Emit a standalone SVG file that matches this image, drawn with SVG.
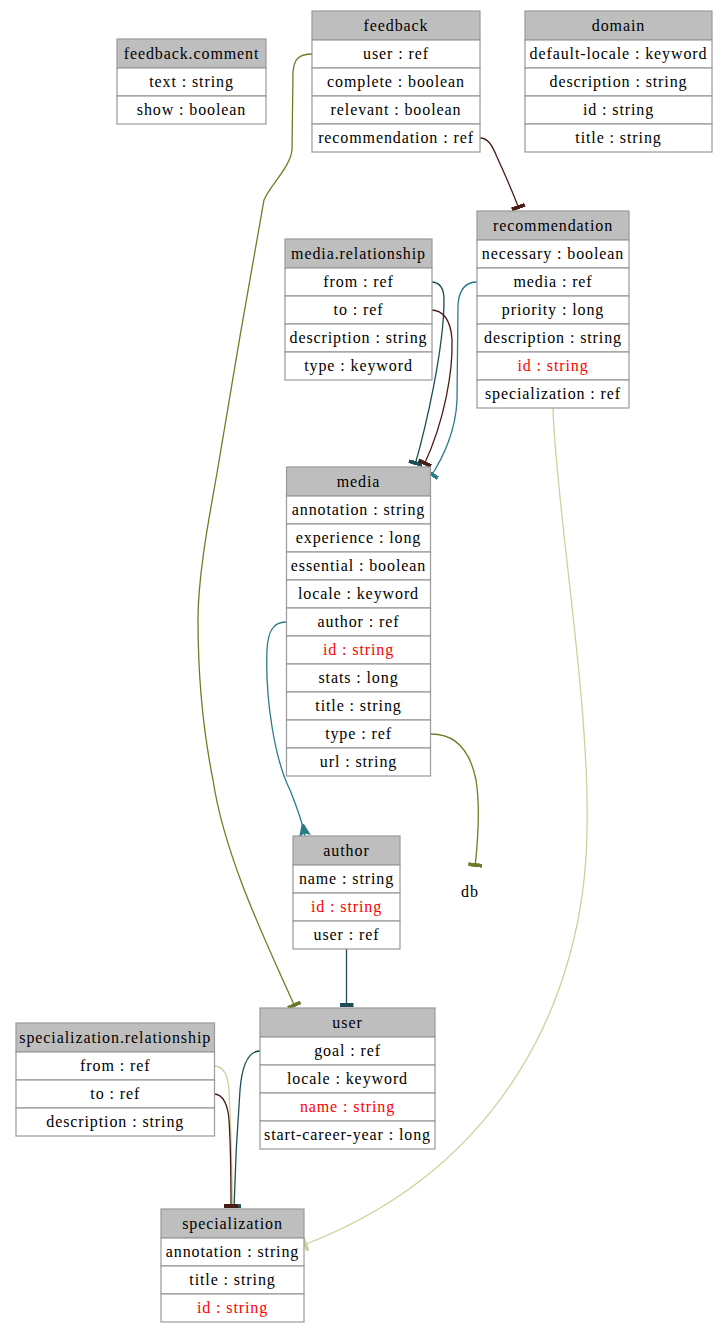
<svg xmlns="http://www.w3.org/2000/svg" width="728" height="1333" viewBox="0 0 728 1333">
<style>
.h{fill:#bebebe;stroke:#999;stroke-width:1.2}
.c{fill:#fff;stroke:#999;stroke-width:1.2}
text{font-family:"Liberation Serif","Times New Roman",serif;font-size:16px;text-anchor:middle;letter-spacing:0.9px;fill:#000}
text.pk{fill:#ff0000}
.e{fill:none;stroke-width:1.3}
.olive{stroke:#6e7d26}
.brown{stroke:#4b1c16}
.dteal{stroke:#1d4e58}
.teal{stroke:#2b7b87}
.lolive{stroke:#c9d49c}
</style>
<defs>
<marker id="tOlive" viewBox="0 0 4 14" refX="4" refY="7" markerWidth="4" markerHeight="14" orient="auto" markerUnits="userSpaceOnUse"><rect width="4" height="14" fill="#6b7a28"/></marker>
<marker id="tBrown" viewBox="0 0 4 14" refX="4" refY="7" markerWidth="4" markerHeight="14" orient="auto" markerUnits="userSpaceOnUse"><rect width="4" height="14" fill="#4b1c16"/></marker>
<marker id="tDteal" viewBox="0 0 4 14" refX="4" refY="7" markerWidth="4" markerHeight="14" orient="auto" markerUnits="userSpaceOnUse"><rect width="4" height="14" fill="#1d4e58"/></marker>
<marker id="tTeal" viewBox="0 0 4 14" refX="4" refY="7" markerWidth="4" markerHeight="14" orient="auto" markerUnits="userSpaceOnUse"><rect width="4" height="14" fill="#2b7b87"/></marker>
<marker id="tLolive" viewBox="0 0 4 14" refX="4" refY="7" markerWidth="4" markerHeight="14" orient="auto" markerUnits="userSpaceOnUse"><rect width="4" height="14" fill="#c9d49c"/></marker>
<marker id="crowTeal" viewBox="0 -7 12 14" refX="12" refY="0" markerWidth="12" markerHeight="14" orient="auto" markerUnits="userSpaceOnUse"><polygon points="0,-1.2 12,-6 9.5,0 12,6 0,1.2" fill="#2b7b87"/></marker>
</defs>

<g id="connectors">
<path id="e-feedback-user" class="e olive" d="M312,54 C300,54 294,58 293,72 L292,150 C290,168 270,185 264,200 C258,230 222,440 217,473 C212,503 198,570 198,620 C198,690 205,740 213,780 C225,860 270,950 295,1007" marker-end="url(#tOlive)"/>
<path id="e-feedback-recommendation" class="e brown" d="M480,138 C488,138 492,145 497,157 C505,175 513,192 519,209" marker-end="url(#tBrown)"/>
<path id="e-recommendation-specialization" class="e lolive" d="M553,408 C555,500 590,700 587,830 C585,1000 500,1170 303.5,1245" marker-end="url(#tLolive)"/>
<path id="e-mrel-from" class="e dteal" d="M431,282 C440,282 444,288 444,300 C444,350 425,430 415,465" marker-end="url(#tDteal)"/>
<path id="e-mrel-to" class="e brown" d="M431,310 C443,310 451,320 452,340 C453,370 445,420 424,465" marker-end="url(#tBrown)"/>
<path id="e-recommendation-media" class="e teal" d="M477,282 C465,282 459,290 458,305 L457,400 C456,430 443,458 431,476" marker-end="url(#tTeal)"/>
<path id="e-media-author" class="e teal" d="M286,622 C274,622 268,630 267,650 C265,700 275,760 290,790 C296,805 302,820 305,836" marker-end="url(#crowTeal)"/>
<path id="e-media-db" class="e olive" d="M431,734 C455,734 470,750 476,780 C480,805 478,840 475,867" marker-end="url(#tOlive)"/>
<path id="e-author-user" class="e dteal" d="M346.5,949 L346.5,1007" marker-end="url(#tDteal)"/>
<path id="e-srel-from" class="e lolive" d="M214,1066 C224,1066 228,1075 229,1090 C231,1130 232,1170 232.5,1208" marker-end="url(#tLolive)"/>
<path id="e-user-goal" class="e dteal" d="M260,1051 C248,1051 242,1065 240,1090 C237,1130 235,1170 234,1208" marker-end="url(#tDteal)"/>
<path id="e-srel-to" class="e brown" d="M214,1094 C223,1094 228,1105 229,1120 C231,1150 231,1180 231,1208" marker-end="url(#tBrown)"/>
</g>

<g id="feedback.comment">
<rect class="h" x="117" y="39" width="149" height="29"/><text x="191.5" y="58.5">feedback.comment</text>
<rect class="c" x="117" y="68" width="149" height="28"/><text x="191.5" y="87">text : string</text>
<rect class="c" x="117" y="96" width="149" height="28"/><text x="191.5" y="115">show : boolean</text>
</g>

<g id="feedback">
<rect class="h" x="312" y="11" width="168" height="29"/><text x="396" y="30.5">feedback</text>
<rect class="c" x="312" y="40" width="168" height="28"/><text x="396" y="59">user : ref</text>
<rect class="c" x="312" y="68" width="168" height="28"/><text x="396" y="87">complete : boolean</text>
<rect class="c" x="312" y="96" width="168" height="28"/><text x="396" y="115">relevant : boolean</text>
<rect class="c" x="312" y="124" width="168" height="28"/><text x="396" y="143">recommendation : ref</text>
</g>

<g id="domain">
<rect class="h" x="525" y="11" width="187" height="29"/><text x="618.5" y="30.5">domain</text>
<rect class="c" x="525" y="40" width="187" height="28"/><text x="618.5" y="59">default-locale : keyword</text>
<rect class="c" x="525" y="68" width="187" height="28"/><text x="618.5" y="87">description : string</text>
<rect class="c" x="525" y="96" width="187" height="28"/><text x="618.5" y="115">id : string</text>
<rect class="c" x="525" y="124" width="187" height="28"/><text x="618.5" y="143">title : string</text>
</g>

<g id="recommendation">
<rect class="h" x="477" y="211" width="152" height="29"/><text x="553" y="230.5">recommendation</text>
<rect class="c" x="477" y="240" width="152" height="28"/><text x="553" y="259">necessary : boolean</text>
<rect class="c" x="477" y="268" width="152" height="28"/><text x="553" y="287">media : ref</text>
<rect class="c" x="477" y="296" width="152" height="28"/><text x="553" y="315">priority : long</text>
<rect class="c" x="477" y="324" width="152" height="28"/><text x="553" y="343">description : string</text>
<rect class="c" x="477" y="352" width="152" height="28"/><text class="pk" x="553" y="371">id : string</text>
<rect class="c" x="477" y="380" width="152" height="28"/><text x="553" y="399">specialization : ref</text>
</g>

<g id="media.relationship">
<rect class="h" x="285" y="239" width="147" height="29"/><text x="358.5" y="258.5">media.relationship</text>
<rect class="c" x="285" y="268" width="147" height="28"/><text x="358.5" y="287">from : ref</text>
<rect class="c" x="285" y="296" width="147" height="28"/><text x="358.5" y="315">to : ref</text>
<rect class="c" x="285" y="324" width="147" height="28"/><text x="358.5" y="343">description : string</text>
<rect class="c" x="285" y="352" width="147" height="28"/><text x="358.5" y="371">type : keyword</text>
</g>

<g id="media">
<rect class="h" x="286.5" y="467" width="144" height="29"/><text x="358.5" y="486.5">media</text>
<rect class="c" x="286.5" y="496" width="144" height="28"/><text x="358.5" y="515">annotation : string</text>
<rect class="c" x="286.5" y="524" width="144" height="28"/><text x="358.5" y="543">experience : long</text>
<rect class="c" x="286.5" y="552" width="144" height="28"/><text x="358.5" y="571">essential : boolean</text>
<rect class="c" x="286.5" y="580" width="144" height="28"/><text x="358.5" y="599">locale : keyword</text>
<rect class="c" x="286.5" y="608" width="144" height="28"/><text x="358.5" y="627">author : ref</text>
<rect class="c" x="286.5" y="636" width="144" height="28"/><text class="pk" x="358.5" y="655">id : string</text>
<rect class="c" x="286.5" y="664" width="144" height="28"/><text x="358.5" y="683">stats : long</text>
<rect class="c" x="286.5" y="692" width="144" height="28"/><text x="358.5" y="711">title : string</text>
<rect class="c" x="286.5" y="720" width="144" height="28"/><text x="358.5" y="739">type : ref</text>
<rect class="c" x="286.5" y="748" width="144" height="28"/><text x="358.5" y="767">url : string</text>
</g>

<g id="author">
<rect class="h" x="293" y="836" width="107" height="29"/><text x="346.5" y="855.5">author</text>
<rect class="c" x="293" y="865" width="107" height="28"/><text x="346.5" y="884">name : string</text>
<rect class="c" x="293" y="893" width="107" height="28"/><text class="pk" x="346.5" y="912">id : string</text>
<rect class="c" x="293" y="921" width="107" height="28"/><text x="346.5" y="940">user : ref</text>
</g>

<g id="db">
<text x="470" y="896.5">db</text>
</g>

<g id="user">
<rect class="h" x="260" y="1008" width="175" height="29"/><text x="347.5" y="1027.5">user</text>
<rect class="c" x="260" y="1037" width="175" height="28"/><text x="347.5" y="1056">goal : ref</text>
<rect class="c" x="260" y="1065" width="175" height="28"/><text x="347.5" y="1084">locale : keyword</text>
<rect class="c" x="260" y="1093" width="175" height="28"/><text class="pk" x="347.5" y="1112">name : string</text>
<rect class="c" x="260" y="1121" width="175" height="28"/><text x="347.5" y="1140">start-career-year : long</text>
</g>

<g id="specialization.relationship">
<rect class="h" x="16" y="1023" width="198.5" height="29"/><text x="115.25" y="1042.5">specialization.relationship</text>
<rect class="c" x="16" y="1052" width="198.5" height="28"/><text x="115.25" y="1071">from : ref</text>
<rect class="c" x="16" y="1080" width="198.5" height="28"/><text x="115.25" y="1099">to : ref</text>
<rect class="c" x="16" y="1108" width="198.5" height="28"/><text x="115.25" y="1127">description : string</text>
</g>

<g id="specialization">
<rect class="h" x="161" y="1209" width="143" height="29"/><text x="232.5" y="1228.5">specialization</text>
<rect class="c" x="161" y="1238" width="143" height="28"/><text x="232.5" y="1257">annotation : string</text>
<rect class="c" x="161" y="1266" width="143" height="28"/><text x="232.5" y="1285">title : string</text>
<rect class="c" x="161" y="1294" width="143" height="28"/><text class="pk" x="232.5" y="1313">id : string</text>
</g>
</svg>
